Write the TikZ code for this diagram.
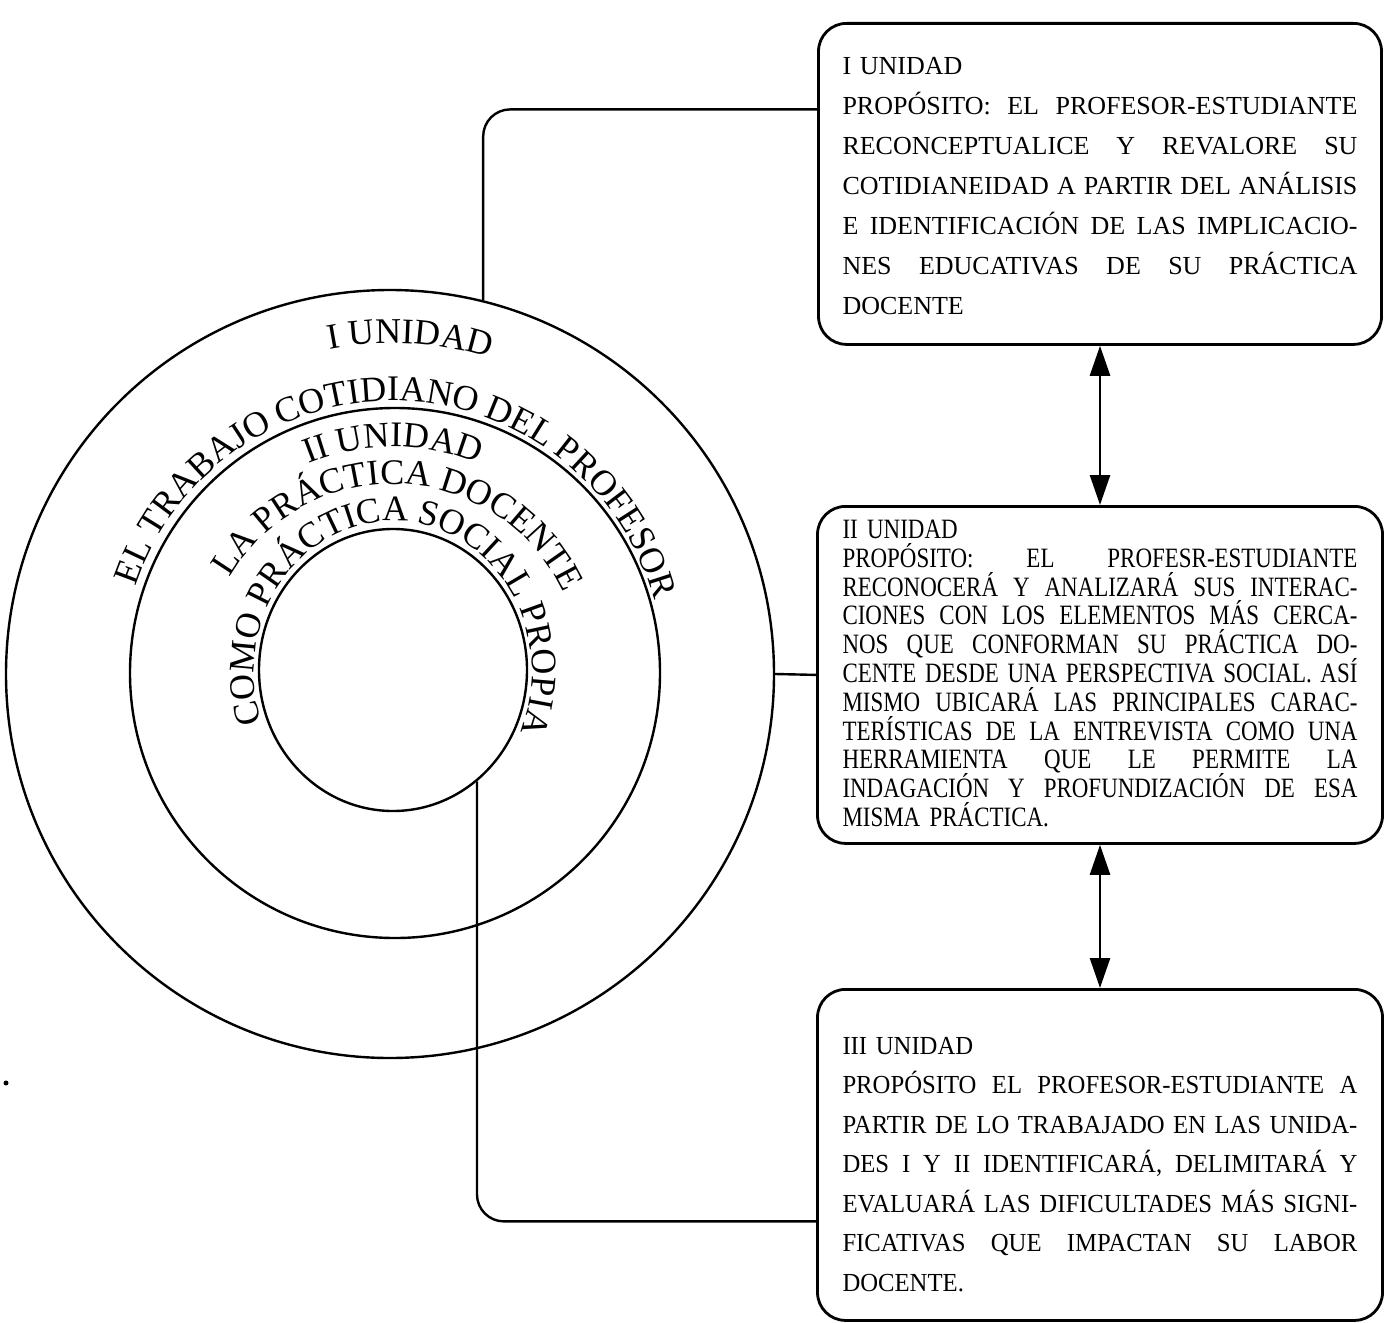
\documentclass[tikz,border=0pt]{standalone}
\usepackage{fontspec}
\setmainfont{Liberation Serif}
\newfontfamily\boxfontB{Liberation Serif}[FakeStretch=0.82]
\newfontfamily\boxfontC{Liberation Serif}[FakeStretch=0.95]
\usetikzlibrary{shapes.geometric,decorations.text,arrows.meta}
\newlength\boxtw
\setlength\boxtw{257.5pt}
\newcommand\jline[1]{\noindent\hbox to\boxtw{\spaceskip=.25em plus 1fil minus .1em\xspaceskip=.3em plus 1fil minus .1em\relax #1}\par}
\newcommand\lline[1]{\noindent\hbox to\boxtw{#1\hfil}\par}
\newcommand\ringfont{\fontsize{18}{18}\selectfont\fontdimen2\font=0.23em\relax}
\begin{document}
\begin{tikzpicture}[x=0.5pt,y=0.5pt,
  ring/.style={draw, line width=1.2pt, inner sep=0pt},
  boxstyle/.style={draw, rounded corners=14pt, line width=1.4pt, inner ysep=0pt,
    inner xsep=12pt, anchor=north, text width=\boxtw},
  conn/.style={line width=1.2pt},
  twoway/.style={line width=1.3pt, >={Triangle[length=15pt,width=10pt]}, <->},
  ringtext/.style={decorate, decoration={text along path, text={|\ringfont|#1}, text align=center}}
]
\useasboundingbox (0,0) rectangle (1391,-1322);

% circles
\node[ring, circle, minimum size=384pt] (outer) at (390,-674) {};
\node[ring, circle, minimum size=265pt] (middle) at (395,-673) {};
\node[ring, ellipse, minimum width=134pt, minimum height=141pt] (inner) at (393,-670) {};

% ring texts
\path[ringtext={I UNIDAD}, shift={(393,-672)}] (127:329) arc[start angle=127, end angle=47, radius=329];
\path[ringtext={EL TRABAJO COTIDIANO DEL PROFESOR}, shift={(393,-672)}] (168.5:271) arc[start angle=168.5, end angle=8.5, radius=271];
\path[ringtext={II UNIDAD}, shift={(393,-672)}] (140:225) arc[start angle=140, end angle=40, radius=225];
\path[ringtext={LA PRÁCTICA DOCENTE}, shift={(393,-672)}] (165:188) arc[start angle=165, end angle=10, radius=188];
\path[ringtext={COMO PRÁCTICA SOCIAL PROPIA}, shift={(393,-672)}] (203:139 and 151) arc[start angle=203, end angle=-27, x radius=139, y radius=151];

% boxes
\node[boxstyle, minimum width=281.5pt, text height=25.5pt, text depth=135pt,
  font={\fontsize{13}{20}\selectfont\lineskiplimit=-50pt}] (b1) at (1100,-22) {%
\lline{I UNIDAD}
\jline{PROPÓSITO: EL PROFESOR-ESTUDIANTE}
\jline{RECONCEPTUALICE Y REVALORE SU}
\jline{COTIDIANEIDAD A PARTIR DEL ANÁLISIS}
\jline{E IDENTIFICACIÓN DE LAS IMPLICACIO-}
\jline{NES EDUCATIVAS DE SU PRÁCTICA}
\lline{DOCENTE}};

\node[boxstyle, minimum width=282.5pt, text height=16pt, text depth=152.5pt,
  font={\boxfontB\fontsize{14}{14.4}\selectfont\lineskiplimit=-50pt}] (b2) at (1100,-505) {%
\lline{II UNIDAD}
\jline{PROPÓSITO: EL PROFESR-ESTUDIANTE}
\jline{RECONOCERÁ Y ANALIZARÁ SUS INTERAC-}
\jline{CIONES CON LOS ELEMENTOS MÁS CERCA-}
\jline{NOS QUE CONFORMAN SU PRÁCTICA DO-}
\jline{CENTE DESDE UNA PERSPECTIVA SOCIAL. ASÍ}
\jline{MISMO UBICARÁ LAS PRINCIPALES CARAC-}
\jline{TERÍSTICAS DE LA ENTREVISTA COMO UNA}
\jline{HERRAMIENTA QUE LE PERMITE LA}
\jline{INDAGACIÓN Y PROFUNDIZACIÓN DE ESA}
\lline{MISMA PRÁCTICA.}};

\node[boxstyle, minimum width=282.5pt, text height=32.5pt, text depth=133pt,
  font={\boxfontC\fontsize{13}{19.75}\selectfont\lineskiplimit=-50pt}] (b3) at (1100,-988) {%
\lline{III UNIDAD}
\jline{PROPÓSITO EL PROFESOR-ESTUDIANTE A}
\jline{PARTIR DE LO TRABAJADO EN LAS UNIDA-}
\jline{DES I Y II IDENTIFICARÁ, DELIMITARÁ Y}
\jline{EVALUARÁ LAS DIFICULTADES MÁS SIGNI-}
\jline{FICATIVAS QUE IMPACTAN SU LABOR}
\lline{DOCENTE.}};

% connectors
\draw[conn, rounded corners=13.5pt] (outer.76.75) |- ([yshift=37.25pt]b1.west);
\draw[conn] (outer.east) -- (b2.west);
\draw[conn, rounded corners=13.5pt] (inner.-53.2) |- ([yshift=-33.25pt]b3.west);
\draw[twoway] (b1.south) -- (b2.north);
\draw[twoway] (b2.south) -- (b3.north);

% stray mark
\fill (6,-1083) circle (2.5);
\end{tikzpicture}
\end{document}
